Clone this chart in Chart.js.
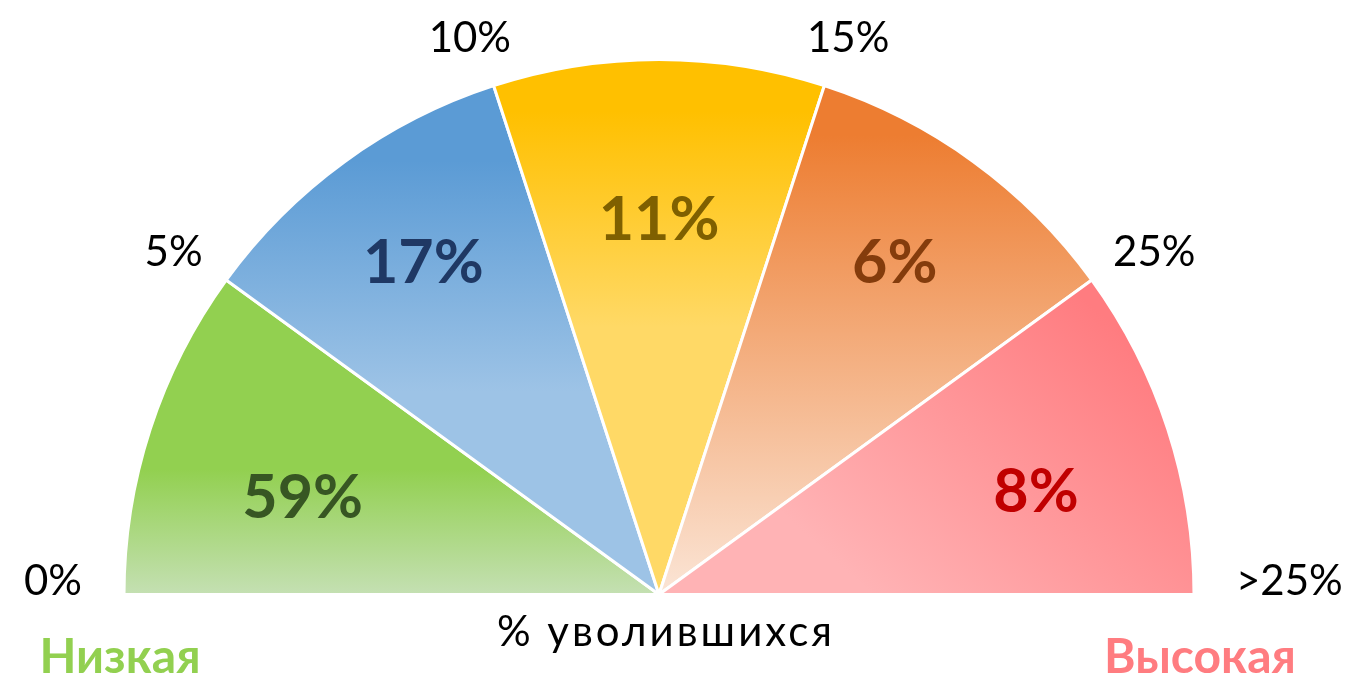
<!DOCTYPE html>
<html lang="ru">
<head>
<meta charset="UTF-8">
<title>% уволившихся</title>
<script src="https://cdn.jsdelivr.net/npm/chart.js"></script>
<style>
    html, body { margin: 0; padding: 0; background: #ffffff; }
    #wrap { width: 1347px; height: 676px; position: relative; }
</style>
</head>
<body>
<div id="wrap"><canvas id="gauge"></canvas></div>
<script>
// five equal bands of the gauge
const segments = ['0–5%', '5–10%', '10–15%', '15–25%', '>25%'];
const segmentSize = [1, 1, 1, 1, 1];
// share of employees in each band
const shareLabels = ['59%', '17%', '11%', '6%', '8%'];
// marks on the band boundaries
const boundaryLabels = ['0%', '5%', '10%', '15%', '25%', '>25%'];

const topColors    = ['#92D050', '#5B9BD5', '#FFC000', '#ED7D31', '#FF7C80'];
const bottomColors = ['#C5E0B4', '#9DC3E6', '#FFD966', '#FBE5D6', '#FFB3B5'];
const labelColors  = ['#375623', '#1F3864', '#7F6000', '#843C0C', '#C00000'];

const FONT = 'Lato, "DejaVu Sans", sans-serif';

function sliceFill(ctx) {
    const chart = ctx.chart;
    const area = chart.chartArea;
    const i = ctx.dataIndex;
    if (!area) return topColors[i];
    const c = chart.ctx;
    const cx = (area.left + area.right) / 2;
    const cy = area.bottom;
    const r = (area.right - area.left) / 2;
    let g;
    if (i === 4) {
        // red slice: diagonal fade towards the centre
        g = c.createLinearGradient(cx + r * 0.85, cy - r * 0.5, cx + r * 0.4, cy);
        g.addColorStop(0, topColors[i]);
        g.addColorStop(1, bottomColors[i]);
        return g;
    }
    const a0 = Math.PI + i * Math.PI / 5;
    const a1 = a0 + Math.PI / 5;
    const top = Math.min(cy + r * Math.sin(a0), cy + r * Math.sin(a1), (a0 <= 1.5 * Math.PI && a1 >= 1.5 * Math.PI) ? cy - r : cy);
    g = c.createLinearGradient(0, top, 0, cy);
    const stops = [[0.6, 1], [0.15, 0.6], [0.1, 0.5], [0.1, 1], [0, 1]][i];
    g.addColorStop(0, topColors[i]);
    g.addColorStop(stops[0], topColors[i]);
    g.addColorStop(stops[1], bottomColors[i]);
    g.addColorStop(1, bottomColors[i]);
    return g;
}

const labelPlugin = {
    id: 'gaugeLabels',
    afterDatasetsDraw(chart) {
        const c = chart.ctx;
        const arcs = chart.getDatasetMeta(0).data;
        const { x, y, outerRadius } = arcs[0].getProps(['x', 'y', 'outerRadius'], true);
        c.save();
        c.textAlign = 'center';
        c.textBaseline = 'middle';

        // share labels inside the slices
        const radial = [0.69, 0.76, 0.70, 0.76, 0.73];
        const tilt = [-0.05, 0.01, 0, -0.01, 0.05];
        c.font = 'bold 61px ' + FONT;
        arcs.forEach((arc, i) => {
            const p = arc.getProps(['startAngle', 'endAngle'], true);
            const mid = (p.startAngle + p.endAngle) / 2 + tilt[i];
            const rr = outerRadius * radial[i];
            c.fillStyle = labelColors[i];
            c.fillText(shareLabels[i], x + rr * Math.cos(mid), y + rr * Math.sin(mid));
        });

        // boundary marks outside the arc
        c.font = '42px ' + FONT;
        c.fillStyle = '#000000';
        const angles = [arcs[0].getProps(['startAngle'], true).startAngle]
            .concat(arcs.map(a => a.getProps(['endAngle'], true).endAngle));
        boundaryLabels.forEach((txt, k) => {
            const a = angles[k];
            const w = c.measureText(txt).width;
            const dx = Math.cos(a), dy = Math.sin(a);
            const flat = Math.abs(dy) < 0.1;
            const R = outerRadius + (flat ? 42 : 36);
            const px = x + R * dx + dx * w / 2;
            const py = y + R * dy + dy * 18 + (flat ? -13 : 4);
            c.fillText(txt, px, py);
        });

        // axis caption and ends
        c.font = '42px ' + FONT;
        c.letterSpacing = '3px';
        c.fillText('% уволившихся', x + 7, y + 38);
        c.letterSpacing = '0px';
        c.font = 'bold 48px ' + FONT;
        c.fillStyle = '#92D050';
        c.fillText('Низкая', x - outerRadius - 4, y + 63);
        c.fillStyle = '#FF7C80';
        c.fillText('Высокая', x + outerRadius + 6, y + 63);
        c.restore();
    }
};

new Chart(document.getElementById('gauge'), {
    type: 'doughnut',
    data: {
        labels: segments,
        datasets: [{
            data: segmentSize,
            backgroundColor: sliceFill,
            borderColor: '#ffffff',
            borderWidth: 3,
            hoverOffset: 0
        }]
    },
    options: {
        responsive: true,
        maintainAspectRatio: false,
        animation: false,
        events: [],
        rotation: -90,
        circumference: 180,
        cutout: 0,
        layout: { padding: { left: 121, right: 150, top: 58, bottom: 80 } },
        plugins: {
            legend: { display: false },
            tooltip: { enabled: false }
        }
    },
    plugins: [labelPlugin]
});
</script>
</body>
</html>
